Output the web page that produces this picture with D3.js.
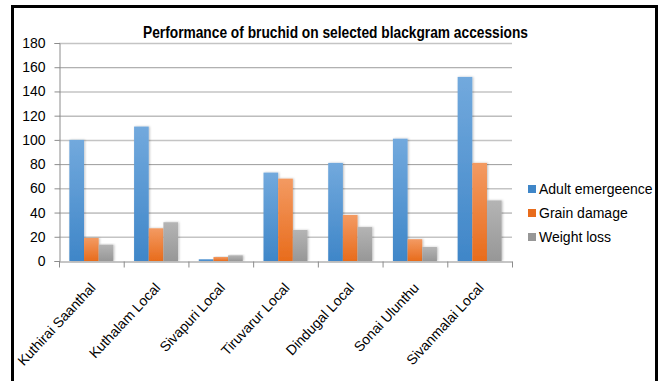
<!DOCTYPE html>
<html>
<head>
<meta charset="utf-8">
<script src="https://cdn.jsdelivr.net/npm/d3@7"></script>
<style>
  body { margin: 0; background: #fff; }
  svg { display: block; }
</style>
</head>
<body>
<script>
'use strict';

// chart data
const categories = ["Kuthirai Saanthal", "Kuthalam Local", "Sivapuri Local", "Tiruvarur Local",
  "Dindugal Local", "Sonai Ulunthu", "Sivanmalai Local"];
const seriesNames = ["Adult emergeence", "Grain damage", "Weight loss"];
const adultEmergence = [100, 111, 1.5, 73, 81, 101, 152];
const grainDamage = [19, 27, 3.3, 68, 38, 18, 81];
const weightLoss = [13.5, 32, 4.7, 25.6, 28, 11.6, 50];
const yTicks = [0, 20, 40, 60, 80, 100, 120, 140, 160, 180];

(function() {
  const font = "'Liberation Sans', Arial, sans-serif";
  const colors = [["#72a9dd", "#3f86c8"], ["#f39a62", "#e86c1c"], ["#b4b4b4", "#979797"]];

  const svg = d3.select("body").append("svg")
    .attr("width", 664)
    .attr("height", 381);

  // frame
  svg.append("rect")
    .attr("x", 12.5).attr("y", 6.5)
    .attr("width", 644).attr("height", 390)
    .attr("fill", "none")
    .attr("stroke", "#000")
    .attr("stroke-width", 3);

  const defs = svg.append("defs");
  colors.forEach((c, i) => {
    const g = defs.append("linearGradient")
      .attr("id", "grad" + i)
      .attr("x1", 0).attr("y1", 0).attr("x2", 0).attr("y2", 1);
    g.append("stop").attr("offset", "0%").attr("stop-color", c[0]);
    g.append("stop").attr("offset", "100%").attr("stop-color", c[1]);
  });
  const shadow = defs.append("filter").attr("id", "shadow")
    .attr("x", "-30%").attr("y", "-10%").attr("width", "160%").attr("height", "130%");
  shadow.append("feDropShadow")
    .attr("dx", 1).attr("dy", 0).attr("stdDeviation", 1)
    .attr("flood-color", "#000").attr("flood-opacity", 0.25);

  const plotLeft = 59, plotRight = 512, plotTop = 43, plotBottom = 261;

  const x = d3.scaleBand().domain(categories).range([plotLeft, plotRight]);
  const x1 = d3.scaleBand().domain(seriesNames).range([0, x.bandwidth() * 0.68]);
  const y = d3.scaleLinear().domain([0, 180]).range([plotBottom, plotTop]);

  // gridlines
  svg.append("g")
    .selectAll("line")
    .data(yTicks.slice(1))
    .enter().append("line")
      .attr("x1", plotLeft).attr("x2", plotRight)
      .attr("y1", d => y(d) + 0.5).attr("y2", d => y(d) + 0.5)
      .attr("stroke", (d, i) => i % 2 ? "#9c9c9c" : "#c4c4c4")
      .attr("stroke-width", (d, i) => i % 2 ? 1 : 1.5);

  // y axis
  const yAxis = svg.append("g")
    .attr("transform", "translate(" + (plotLeft + 0.5) + ",0)")
    .call(d3.axisLeft(y).tickValues(yTicks).tickSize(5).tickPadding(9));
  yAxis.select(".domain").attr("stroke", "#8c8c8c");
  yAxis.selectAll(".tick line").attr("stroke", "#8c8c8c");
  yAxis.selectAll("text")
    .attr("font-family", font)
    .attr("font-size", "14px")
    .attr("fill", "#000");

  // bars
  const series = [adultEmergence, grainDamage, weightLoss];
  seriesNames.forEach((name, s) => {
    svg.append("g")
      .selectAll("rect")
      .data(categories)
      .enter().append("rect")
        .attr("x", d => x(d) + x.bandwidth() * 0.16 + x1(name))
        .attr("y", (d, i) => y(series[s][i]))
        .attr("width", x1.bandwidth())
        .attr("height", (d, i) => plotBottom - y(series[s][i]))
        .attr("fill", "url(#grad" + s + ")")
        .attr("filter", "url(#shadow)");
  });

  // x axis
  const xAxis = svg.append("g")
    .attr("transform", "translate(0," + (plotBottom + 0.5) + ")")
    .call(d3.axisBottom(x).tickSize(0).tickPadding(0));
  xAxis.select(".domain").attr("stroke", "#8c8c8c");
  xAxis.append("g")
    .selectAll("line")
    .data(d3.range(categories.length + 1))
    .enter().append("line")
      .attr("x1", i => plotLeft + 0.5 + i * x.step())
      .attr("x2", i => plotLeft + 0.5 + i * x.step())
      .attr("y1", 0).attr("y2", 6)
      .attr("stroke", "#8c8c8c");
  xAxis.selectAll(".tick text")
    .attr("font-family", font)
    .attr("font-size", "14px")
    .attr("fill", "#000")
    .style("text-anchor", "end")
    .attr("x", 0).attr("y", 0).attr("dy", 0)
    .attr("transform", "translate(5,27) rotate(-47)");

  // title
  svg.append("text")
    .attr("x", 335.5)
    .attr("y", 38)
    .attr("font-family", font)
    .attr("font-size", "16px")
    .attr("font-weight", "bold")
    .attr("textLength", 385)
    .attr("lengthAdjust", "spacingAndGlyphs")
    .style("text-anchor", "middle")
    .text("Performance of bruchid on selected blackgram accessions");

  // legend
  const legend = svg.append("g");
  seriesNames.forEach((name, i) => {
    legend.append("rect")
      .attr("x", 528)
      .attr("y", 185 + i * 24)
      .attr("width", 8).attr("height", 8)
      .attr("fill", colors[i][1]);
    legend.append("text")
      .attr("x", 539)
      .attr("y", 194 + i * 24)
      .attr("font-family", font)
      .attr("font-size", "14px")
      .text(name);
  });
})();
</script>
</body>
</html>
